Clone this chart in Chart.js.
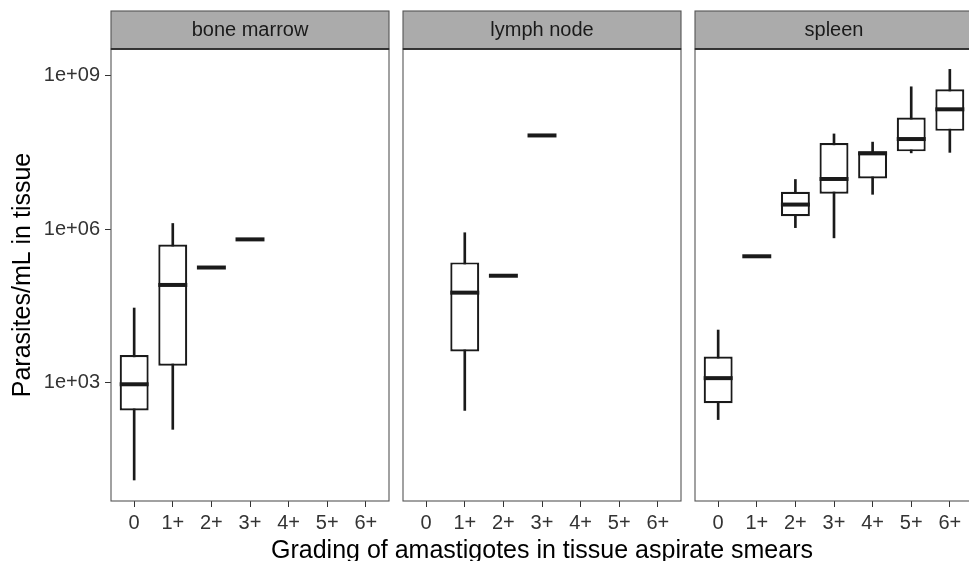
<!DOCTYPE html>
<html>
<head>
<meta charset="utf-8">
<script src="https://cdn.jsdelivr.net/npm/chart.js@4"></script>
<style>
 body{margin:0;background:#fff;width:969px;height:561px;overflow:hidden;position:relative;font-family:"Liberation Sans",Arial,sans-serif}
 canvas{position:absolute;top:10px}
 #xt{position:absolute;left:111px;width:862px;top:537px;text-align:center;font-size:25px;line-height:25px;color:#000;white-space:nowrap}
</style>
</head>
<body>
<canvas id="c1" width="391" height="531" style="left:0px"></canvas>
<canvas id="c2" width="282" height="531" style="left:401px"></canvas>
<canvas id="c3" width="282" height="531" style="left:693px"></canvas>
<div id="xt">Grading of amastigotes in tissue aspirate smears</div>
<script>
let grades=["0","1+","2+","3+","4+","5+","6+"];
let yTicks=[1e3,1e6,1e9];
let yTickLabels=["1e+03","1e+06","1e+09"];
let yMin=4.9, yMax=3.3e9;

// bone marrow
let bmLow =[12.6,123,178000,631000,null,null,null];
let bmQ1  =[288,2140,178000,631000,null,null,null];
let bmMed =[933,81300,178000,631000,null,null,null];
let bmQ3  =[3470,501000,178000,631000,null,null,null];
let bmHigh=[28800,1290000,178000,631000,null,null,null];
// lymph node
let lnLow =[null,288,123000,67600000,null,null,null];
let lnQ1  =[null,4070,123000,67600000,null,null,null];
let lnMed =[null,57500,123000,67600000,null,null,null];
let lnQ3  =[null,224000,123000,67600000,null,null,null];
let lnHigh=[null,851000,123000,67600000,null,null,null];
// spleen
let spLow =[191,295000,1070000,676000,4790000,30900000,31600000];
let spQ1  =[398,295000,1780000,4900000,9770000,33100000,83200000];
let spMed =[1230,295000,3020000,9550000,30200000,57500000,219000000];
let spQ3  =[3240,295000,5370000,47900000,33100000,151000000,537000000];
let spHigh=[10700,295000,9330000,72400000,50100000,603000000,1320000000];

Chart.defaults.font.family='"Liberation Sans", Arial, sans-serif';

const panel={id:'panel',
 beforeDraw(c){
  let a=c.chartArea,t=c.titleBlock,x=c.ctx;
  x.save();
  x.fillStyle='#ababab';x.fillRect(a.left,t.top,a.right-a.left,t.height);
  x.strokeStyle='#555';x.lineWidth=1.1;x.strokeRect(a.left,t.top,a.right-a.left,t.height);
  x.restore();
 },
 afterDraw(c){
  let a=c.chartArea,x=c.ctx;
  x.save();x.strokeStyle='#555';x.lineWidth=1.1;
  x.strokeRect(a.left,a.top,a.right-a.left,a.bottom-a.top);
  x.strokeStyle='#222';x.lineWidth=1.6;
  x.beginPath();x.moveTo(a.left,a.top);x.lineTo(a.right,a.top);x.stroke();
  x.restore();
 }
};

function pairs(a,b){
 let out=[];
 grades.forEach((g,i)=>{if(a[i]!=null) out.push({x:i,y:[a[i],b[i]]})});
 return out;
}

function facet(id,name,lo,q1,med,q3,hi,first){
 let meds=[];
 grades.forEach((g,i)=>{if(med[i]!=null) meds.push({x:i,y:med[i]})});
 new Chart(document.getElementById(id),{
  type:"bar",
  data:{datasets:[
   {type:"bar",data:pairs(lo,hi),backgroundColor:"#1a1a1a",borderWidth:0,barThickness:2,grouped:false,order:3},
   {type:"bar",data:pairs(q1,q3),backgroundColor:"#fff",borderColor:"#1a1a1a",borderWidth:2.2,borderSkipped:false,
    barPercentage:0.75,categoryPercentage:1,grouped:false,order:2},
   {type:"line",data:meds,showLine:false,pointStyle:"line",order:1,
    pointRadius:c=>{let s=c.chart.scales.x;return (s.getPixelForValue(1)-s.getPixelForValue(0))*0.375},
    pointBorderWidth:4,pointBorderColor:"#1a1a1a",pointBackgroundColor:"#1a1a1a"}
  ]},
  options:{
   responsive:false,animation:false,
   layout:{padding:{top:1,left:first?0:2,right:2,bottom:0}},
   plugins:{
    legend:{display:false},tooltip:{enabled:false},
    title:{display:true,text:name,fullSize:false,color:"#1a1a1a",
     font:{size:20,weight:"normal",lineHeight:1.1},padding:{top:8,bottom:8}}
   },
   scales:{
    x:{type:"linear",min:-0.6,max:6.6,offset:false,bounds:"data",
     afterBuildTicks:s=>{s.ticks=grades.map((g,i)=>({value:i}))},
     afterFit:s=>{s.height=40},
     ticks:{callback:v=>grades[v],color:"#333",font:{size:20},padding:4,maxRotation:0,autoSkip:false},
     grid:{drawOnChartArea:false,tickLength:6,color:"#333",offset:false},
     border:{display:false}},
    y:{type:"logarithmic",min:yMin,max:yMax,bounds:"data",display:first,
     afterBuildTicks:s=>{s.ticks=yTicks.map(v=>({value:v}))},
     afterFit:s=>{s.width=first?111:0},
     ticks:{callback:(v,i)=>yTickLabels[i],color:"#333",font:{size:20},padding:5},
     grid:{drawOnChartArea:false,tickLength:6,color:"#333"},
     border:{display:false},
     title:{display:true,text:"Parasites/mL in tissue",color:"#000",font:{size:25},padding:{top:8}}}
   }
  },
  plugins:[panel]
 });
}

facet("c1","bone marrow",bmLow,bmQ1,bmMed,bmQ3,bmHigh,true);
facet("c2","lymph node",lnLow,lnQ1,lnMed,lnQ3,lnHigh,false);
facet("c3","spleen",spLow,spQ1,spMed,spQ3,spHigh,false);
</script>
</body>
</html>
